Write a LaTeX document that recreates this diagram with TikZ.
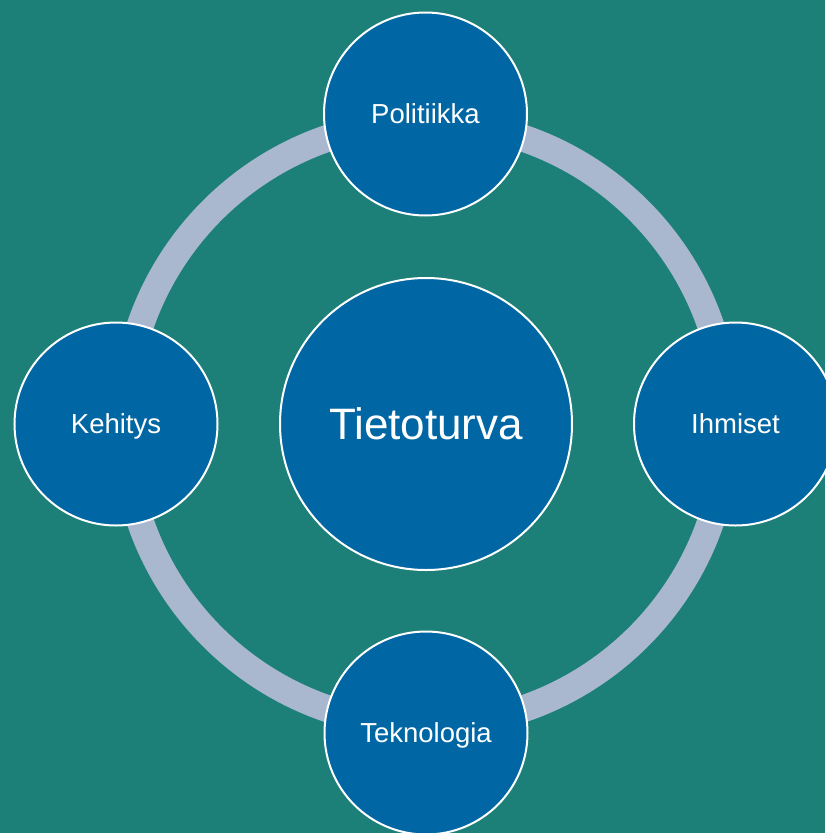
\documentclass[tikz,border=0pt]{standalone}
\usepackage{fontspec}
\setmainfont{Liberation Sans}
\definecolor{bgteal}{HTML}{1C8078}
\definecolor{ringblue}{HTML}{A9B7CF}
\definecolor{nodeblue}{HTML}{0067A4}
\begin{document}
\begin{tikzpicture}[x=1pt,y=1pt,
  topic/.style={circle, fill=nodeblue, draw=white, line width=2pt, minimum size=203pt, inner sep=0pt, text=white, font=\fontsize{27.5}{30}\selectfont, text height=19.7pt, text depth=0pt},
  hub/.style={circle, fill=nodeblue, draw=white, line width=2pt, minimum size=292pt, inner sep=0pt, text=white, font=\fontsize{44}{48}\selectfont, text height=31.5pt, text depth=0pt}]
\fill[bgteal] (0,0) rectangle (825,-833);
\useasboundingbox (0,0) rectangle (825,-833);
\coordinate (c) at (425.5,-423.5);
\draw[ringblue, line width=27pt] (c) circle[radius=301.5];
\node[hub] (center) at (426,-424) {Tietoturva};
\node[topic] (pol) at (425.5,-114) {Politiikka};
\node[topic] (ihm) at (735.5,-424) {Ihmiset};
\node[topic] (tek) at (426,-733) {Teknologia};
\node[topic] (keh) at (116,-424) {Kehitys};
\end{tikzpicture}
\end{document}
